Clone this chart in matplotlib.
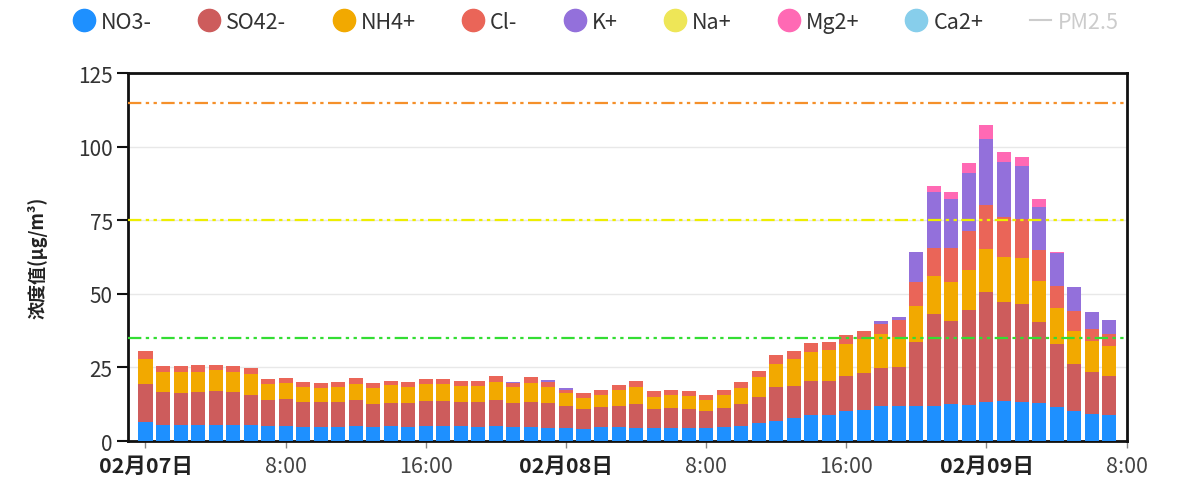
import numpy as np
import matplotlib.pyplot as plt
from matplotlib.lines import Line2D

plt.rcParams['font.family'] = ['Noto Sans CJK SC', 'DejaVu Sans']

# hourly samples, 02-07 00:00 .. 02-09 07:00
hours = list(range(56))

no3 = [6.6, 5.4, 5.4, 5.6, 5.6, 5.5, 5.4, 5.0, 5.0, 4.8, 4.8, 4.9,
       5.2, 4.9, 5.0, 4.9, 5.1, 5.1, 5.0, 4.9, 5.1, 4.6, 4.8, 4.5,
       4.5, 4.2, 4.6, 4.8, 4.4, 4.3, 4.5, 4.5, 4.3, 4.6, 5.2, 6.0,
       6.9, 7.7, 8.8, 9.0, 10.1, 10.6, 11.8, 11.8,
       12.0, 11.8, 12.6, 12.2, 13.1, 13.5, 13.1, 12.9, 11.7, 10.3, 9.2, 8.8]
so4 = [12.8, 11.1, 11.0, 11.0, 11.4, 11.0, 10.4, 9.0, 9.2, 8.4, 8.3, 8.4,
       8.8, 7.7, 7.8, 8.0, 8.5, 8.6, 8.4, 8.5, 8.8, 8.3, 8.6, 8.4,
       7.4, 6.6, 6.8, 7.2, 8.1, 6.5, 6.6, 6.5, 6.0, 6.6, 7.4, 8.8,
       11.3, 11.1, 11.5, 11.5, 11.9, 12.5, 12.9, 13.2,
       21.5, 31.3, 28.3, 32.4, 37.6, 33.8, 33.4, 27.6, 21.2, 15.9, 14.1, 13.4]
nh4 = [8.5, 7.0, 7.0, 7.0, 7.0, 6.9, 7.1, 5.4, 5.4, 5.2, 5.0, 5.1,
       5.4, 5.3, 6.3, 5.4, 5.7, 5.6, 5.4, 5.4, 6.2, 5.4, 6.2, 5.6,
       4.4, 3.9, 4.3, 5.2, 5.8, 4.3, 4.4, 4.4, 3.8, 4.4, 5.5, 7.0,
       8.0, 9.1, 9.8, 10.5, 10.9, 11.5, 11.6, 10.5,
       12.5, 13.1, 13.2, 13.6, 14.5, 15.1, 15.6, 14.0, 12.2, 11.3, 10.8, 10.0]
cl = [2.6, 2.1, 2.1, 2.1, 2.0, 2.0, 1.9, 1.7, 1.7, 1.6, 1.6, 1.6,
      2.0, 1.8, 1.4, 1.6, 1.8, 1.8, 1.7, 1.7, 2.1, 1.3, 2.1, 1.6,
      1.2, 1.5, 1.7, 1.8, 2.0, 1.8, 1.8, 1.7, 1.6, 1.8, 2.1, 2.1,
      3.0, 2.8, 3.1, 2.5, 3.1, 2.9, 3.4, 5.5,
      7.9, 9.3, 11.4, 13.2, 15.0, 13.6, 13.3, 10.5, 7.4, 6.8, 3.9, 4.0]
k = [0.0, 0.0, 0.0, 0.0, 0.0, 0.0, 0.0, 0.0, 0.0, 0.0, 0.0, 0.0,
     0.0, 0.0, 0.0, 0.0, 0.0, 0.0, 0.0, 0.0, 0.0, 0.3, 0.0, 0.8,
     0.4, 0.0, 0.0, 0.0, 0.0, 0.0, 0.0, 0.0, 0.0, 0.0, 0.0, 0.0,
     0.0, 0.0, 0.0, 0.0, 0.0, 0.0, 1.0, 1.2,
     10.2, 19.2, 16.7, 19.8, 22.4, 18.9, 18.1, 14.4, 11.3, 7.9, 5.9, 4.9]
na = [0.0] * 56
mg = [0.0] * 44 + [0.0, 1.8, 2.5, 3.1, 4.8, 3.4, 3.1, 2.8, 0.5, 0.0, 0.0, 0.0]
ca = [0.0] * 56

series = [('NO3-', no3, '#1e90ff'), ('SO42-', so4, '#cd5c5c'),
          ('NH4+', nh4, '#f2a900'), ('Cl-', cl, '#ea6558'),
          ('K+', k, '#9370db'), ('Na+', na, '#eee657'),
          ('Mg2+', mg, '#ff69b4'), ('Ca2+', ca, '#87ceeb')]

limits = [(115, '#f5902a'), (75, '#eeee00'), (35, '#33dd33')]

tick_pos = [0, 8, 16, 24, 32, 40, 48, 56]
tick_labels = ['02月07日', '8:00', '16:00', '02月08日', '8:00', '16:00', '02月09日', '8:00']

fig = plt.figure(figsize=(11.96, 4.81), dpi=100)
ax = fig.add_axes([0.107, 0.081, 0.835, 0.765])

bottom = np.zeros(len(hours))
handles = []
for name, vals, color in series:
    vals = np.array(vals)
    ax.bar(hours, vals, width=0.8, bottom=bottom, color=color, zorder=3)
    bottom += vals
    handles.append(Line2D([], [], marker='o', linestyle='none', markersize=16,
                          markerfacecolor=color, markeredgecolor=color, label=name))
handles.append(Line2D([], [], color='#cccccc', linewidth=1.5, label='PM2.5'))

for val, color in limits:
    ax.axhline(val, color=color, linewidth=1.6, dashes=(6, 2, 1.5, 2, 1.5, 2), zorder=4)

ax.set_xlim(-1, 56)
ax.set_ylim(0, 125)
ax.set_yticks([0, 25, 50, 75, 100, 125])
ax.yaxis.grid(True, color='#e8e8e8', linewidth=1, zorder=0)
ax.set_xticks(tick_pos)
ax.set_xticklabels(tick_labels)
for lab in ax.get_xticklabels():
    if '日' in lab.get_text():
        lab.set_fontweight('bold')
        lab.set_color('#222222')
    else:
        lab.set_color('#444444')
ax.tick_params(axis='x', length=5, width=1, color='#888888', labelsize=15.5, pad=5)
ax.tick_params(axis='y', length=8, width=1.5, color='#111111', labelsize=15,
               labelcolor='#333333', pad=3)
for s in ax.spines.values():
    s.set_linewidth(2)
    s.set_color('#111111')
ax.set_ylabel('浓度值(μg/m³)', fontsize=13, fontweight='bold', color='#222222', labelpad=22)

leg = fig.legend(handles=handles, loc='center left', bbox_to_anchor=(0.045, 0.953),
                 ncol=9, frameon=False, fontsize=15.5, handlelength=1.0,
                 handletextpad=0.3, columnspacing=2.15)
for t in leg.get_texts():
    t.set_color('#cccccc' if t.get_text() == 'PM2.5' else '#333333')

fig.savefig('out.png', dpi=100)
